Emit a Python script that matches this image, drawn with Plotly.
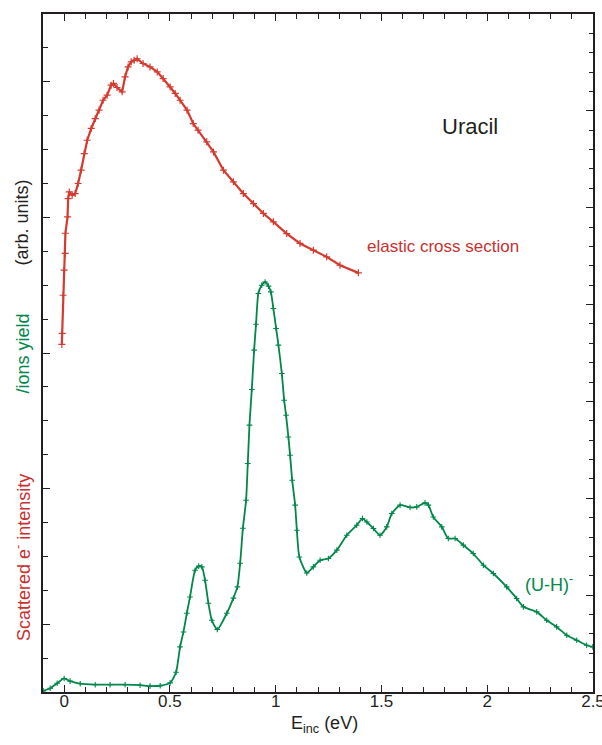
import plotly.graph_objects as go

# Green: (U-H)- ion yield (arb. units, left-axis scale)
green_x = [-0.099, -0.066, -0.033, 0.0, 0.028, 0.076, 0.147, 0.217, 0.288, 0.359, 0.406, 0.454,
           0.501, 0.529, 0.548, 0.564, 0.580, 0.595, 0.619, 0.636, 0.651, 0.666, 0.682, 0.698,
           0.724, 0.769, 0.800, 0.819, 0.832, 0.845, 0.860, 0.868, 0.876, 0.887, 0.898, 0.907,
           0.918, 0.934, 0.950, 0.966, 0.977, 0.989, 1.002, 1.013, 1.029, 1.040, 1.049, 1.060,
           1.068, 1.078, 1.092, 1.100, 1.112, 1.147, 1.178, 1.210, 1.249, 1.289, 1.336, 1.383,
           1.410, 1.431, 1.462, 1.493, 1.525, 1.549, 1.588, 1.635, 1.667, 1.706, 1.722, 1.745,
           1.785, 1.816, 1.848, 1.887, 1.934, 1.982, 2.029, 2.092, 2.139, 2.171, 2.234, 2.281,
           2.328, 2.376, 2.423, 2.470, 2.499]
green_y = [-0.492, -0.472, -0.435, -0.400, -0.420, -0.439, -0.446, -0.446, -0.446, -0.450, -0.457, -0.454,
           -0.433, -0.354, -0.167, -0.057, 0.081, 0.201, 0.398, 0.428, 0.423, 0.324, 0.155, 0.029,
           -0.039, 0.081, 0.192, 0.275, 0.450, 0.708, 0.914, 1.185, 1.468, 1.731, 2.021, 2.212,
           2.439, 2.500, 2.524, 2.493, 2.451, 2.328, 2.181, 2.058, 1.849, 1.652, 1.541, 1.381,
           1.246, 1.062, 0.878, 0.693, 0.496, 0.378, 0.423, 0.472, 0.485, 0.546, 0.656, 0.730,
           0.779, 0.754, 0.706, 0.656, 0.718, 0.816, 0.878, 0.861, 0.865, 0.895, 0.878, 0.791,
           0.718, 0.632, 0.632, 0.583, 0.521, 0.435, 0.374, 0.275, 0.190, 0.128, 0.091, 0.029,
           -0.020, -0.081, -0.118, -0.155, -0.167]

# Red: elastic cross section
red_x = [-0.011, -0.009, -0.005, 0.0, 0.005, 0.006, 0.016, 0.019, 0.024, 0.038, 0.052, 0.066,
         0.080, 0.095, 0.109, 0.128, 0.147, 0.165, 0.184, 0.203, 0.222, 0.233, 0.250, 0.274,
         0.288, 0.302, 0.317, 0.331, 0.345, 0.373, 0.406, 0.440, 0.468, 0.501, 0.525, 0.548,
         0.581, 0.610, 0.633, 0.674, 0.706, 0.753, 0.800, 0.847, 0.895, 0.942, 0.989, 1.052,
         1.115, 1.178, 1.241, 1.304, 1.391]
red_y = [2.063, 2.144, 2.426, 2.611, 2.734, 2.883, 3.004, 3.139, 3.188, 3.164, 3.176, 3.250,
         3.348, 3.471, 3.569, 3.656, 3.729, 3.791, 3.864, 3.901, 3.975, 3.988, 3.958, 3.926,
         4.037, 4.110, 4.147, 4.159, 4.170, 4.135, 4.110, 4.073, 4.024, 3.962, 3.914, 3.864,
         3.791, 3.692, 3.643, 3.557, 3.483, 3.348, 3.262, 3.176, 3.102, 3.029, 2.967, 2.881,
         2.808, 2.758, 2.709, 2.647, 2.591]

x_tickvals = [0, 0.5, 1, 1.5, 2, 2.5]
x_ticktext = ["0", "0.5", "1", "1.5", "2", "2.5"]

RED = "#d63a2e"
RED_TXT = "#c9302f"
GREEN = "#00884a"
AX = "#231f20"
FONT = "Liberation Sans, Arial, sans-serif"

fig = go.Figure()
fig.add_trace(go.Scatter(x=red_x, y=red_y, mode="lines+markers",
                         line=dict(color=RED, width=2.2),
                         marker=dict(symbol="cross-thin", size=5, line=dict(color=RED, width=1.2)),
                         showlegend=False, hoverinfo="skip"))
fig.add_trace(go.Scatter(x=green_x, y=green_y, mode="lines+markers",
                         line=dict(color=GREEN, width=1.8, shape="spline", smoothing=0.6),
                         marker=dict(symbol="cross-thin", size=4, line=dict(color=GREEN, width=1.1)),
                         showlegend=False, hoverinfo="skip"))
fig.add_trace(go.Scatter(x=[None], y=[None], yaxis="y2", showlegend=False, hoverinfo="skip"))
fig.add_trace(go.Scatter(x=[None], y=[None], xaxis="x2", showlegend=False, hoverinfo="skip"))

L, R, T, B = 43, 593, 14, 692
W, H = 602, 745

def px(x):
    return (x - L) / (R - L)

def py(y):
    return (B - y) / (B - T)

tick_common = dict(ticks="inside", ticklen=7, tickwidth=1.3, tickcolor=AX, automargin=False,
                   showline=True, linewidth=1.5, linecolor=AX, showgrid=False, zeroline=False)

fig.update_layout(
    width=W, height=H,
    margin=dict(l=L, r=W - R, t=T, b=H - B, autoexpand=False),
    paper_bgcolor="white", plot_bgcolor="white",
    font=dict(family=FONT, color=AX),
    xaxis=dict(range=[-0.1, 2.5], tickvals=x_tickvals, ticktext=x_ticktext,
               minor=dict(dtick=0.1, tick0=0, ticks="inside", ticklen=5, tickwidth=1.2, tickcolor=AX),
               tickfont=dict(size=17, family=FONT, color=AX),
               ticklabeloverflow="allow", ticklabelstandoff=-7, **tick_common),
    xaxis2=dict(range=[-0.1, 2.5], tickvals=x_tickvals, overlaying="x", side="top",
                showticklabels=False,
                minor=dict(dtick=0.1, tick0=0, ticks="inside", ticklen=5, tickwidth=1.2, tickcolor=AX),
                **tick_common),
    yaxis=dict(range=[-0.5, 4.5], tick0=0, dtick=1, showticklabels=False,
               minor=dict(dtick=0.25, tick0=0, ticks="inside", ticklen=5, tickwidth=1.2, tickcolor=AX),
               **tick_common),
    yaxis2=dict(range=[0, 7], tick0=0, dtick=1, overlaying="y", side="right",
                showticklabels=False,
                minor=dict(dtick=0.2, tick0=0, ticks="inside", ticklen=4, tickwidth=1.2, tickcolor=AX),
                **tick_common),
)

ann = [
    dict(text="Uracil", x=px(470), y=py(127), font=dict(size=22, color=AX)),
    dict(text="elastic cross section", x=px(443), y=py(246), font=dict(size=17, color=RED_TXT)),
    dict(text="(U-H)<sup>-</sup>", x=px(549), y=py(583), font=dict(size=18, color=GREEN)),
    dict(text="E<sub>inc</sub> (eV)", x=px(324), y=py(724), font=dict(size=18, color=AX)),
    dict(text="Scattered e<sup>-</sup> intensity", x=px(22), y=py(558), textangle=-90,
         font=dict(size=18, color=RED_TXT)),
    dict(text="/ions yield", x=px(22), y=py(353.5), textangle=-90, font=dict(size=18, color=GREEN)),
    dict(text="(arb. units)", x=px(22), y=py(222.5), textangle=-90, font=dict(size=18, color=AX)),
]
for a in ann:
    fig.add_annotation(xref="paper", yref="paper", showarrow=False,
                       xanchor="center", yanchor="middle", **a)

fig.write_html("out.html")
